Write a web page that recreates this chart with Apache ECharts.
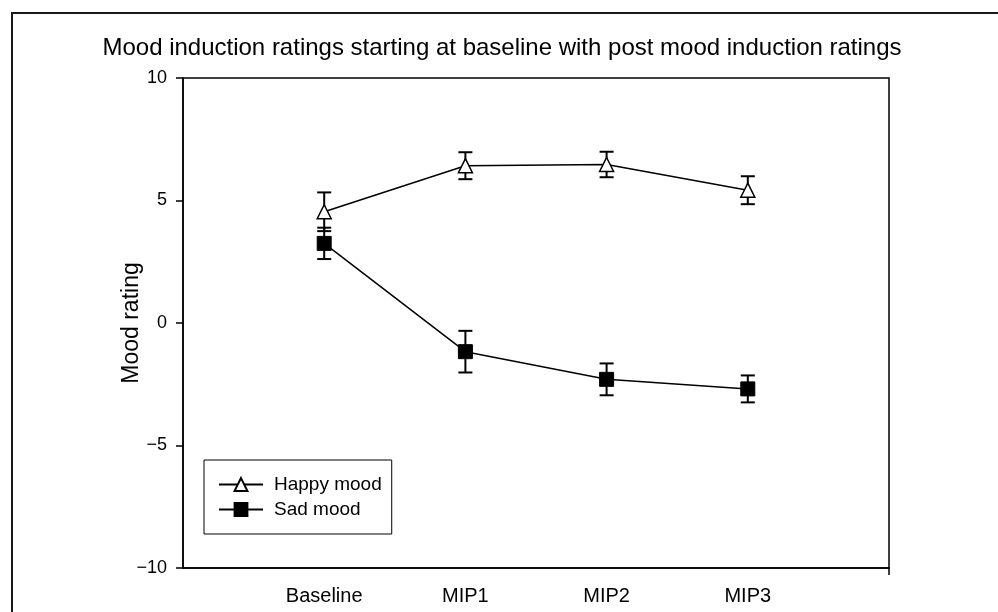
<!DOCTYPE html>
<html>
<head>
<meta charset="utf-8">
<title>Mood induction ratings</title>
<script src="https://cdn.jsdelivr.net/npm/echarts@6/dist/echarts.min.js"></script>
<style>
  html, body { margin: 0; padding: 0; background: #fff; }
  #chart { width: 998px; height: 612px; }
</style>
</head>
<body>
<div id="chart"></div>
<script>
// time points (placed at 1..4 on a 0..5 axis)
const categories = ["Baseline", "MIP1", "MIP2", "MIP3"];
const positions = [1, 2, 3, 4];
const yTicks = [-10, -5, 0, 5, 10];

// means and error bar half-lengths
const happyMean = [4.54, 6.42, 6.47, 5.42];
const happyErr = [0.79, 0.55, 0.52, 0.57];
const sadMean = [3.25, -1.17, -2.30, -2.69];
const sadErr = [0.64, 0.85, 0.65, 0.55];

const FONT = "'Liberation Sans', Arial, sans-serif";

const chart = echarts.init(document.getElementById("chart"));

function pts(means) {
  return positions.map((x, i) => [x, means[i]]);
}
function errPts(means, errs) {
  return positions.map((x, i) => [x, means[i], errs[i]]);
}

// error bar: vertical line + two caps
function errorBar(params, api) {
  const x = api.value(0), m = api.value(1), e = api.value(2);
  const top = api.coord([x, m + e]);
  const bot = api.coord([x, m - e]);
  const hw = 7;
  const st = { stroke: "#000", lineWidth: 2 };
  return {
    type: "group",
    children: [
      { type: "line", shape: { x1: top[0], y1: top[1], x2: bot[0], y2: bot[1] }, style: st },
      { type: "line", shape: { x1: top[0] - hw, y1: top[1], x2: top[0] + hw, y2: top[1] }, style: st },
      { type: "line", shape: { x1: bot[0] - hw, y1: bot[1], x2: bot[0] + hw, y2: bot[1] }, style: st }
    ]
  };
}

const option = {
  backgroundColor: "#fff",
  animation: false,
  textStyle: { fontFamily: FONT, color: "#000" },
  title: {
    text: "Mood induction ratings starting at baseline with post mood induction ratings",
    left: 497,
    textAlign: "center",
    top: 31,
    textStyle: { fontSize: 24, fontWeight: "normal", color: "#000", fontFamily: FONT }
  },
  graphic: [
    {
      // outer figure frame
      type: "rect",
      z: 0,
      shape: { x: 12, y: 13, width: 1000, height: 700 },
      style: { fill: "none", stroke: "#1a1a1a", lineWidth: 2 }
    }
  ],
  grid: {
    left: 183,
    top: 78,
    right: 109,
    bottom: 44,
    show: true,
    borderColor: "#000",
    borderWidth: 1.5,
    backgroundColor: "transparent"
  },
  legend: {
    orient: "vertical",
    left: 204,
    top: 460,
    backgroundColor: "#fff",
    borderColor: "#000",
    borderWidth: 1,
    padding: [15, 10, 15, 14],
    itemWidth: 44,
    itemHeight: 16,
    itemGap: 6,
    textStyle: { fontSize: 19, color: "#000", fontFamily: FONT, padding: [0, 0, 0, 6] },
    data: ["Happy mood", "Sad mood"]
  },
  xAxis: {
    type: "value",
    min: 0,
    max: 5,
    interval: 1,
    splitLine: { show: false },
    axisLine: { onZero: false, lineStyle: { color: "#000", width: 1.5 } },
    axisTick: {
      show: true,
      inside: false,
      length: 7,
      customValues: [5],
      lineStyle: { color: "#000", width: 1.5 }
    },
    axisLabel: {
      customValues: positions,
      margin: 18,
      fontSize: 20,
      color: "#000",
      fontFamily: FONT,
      formatter: (v) => categories[positions.indexOf(v)] || ""
    }
  },
  yAxis: {
    type: "value",
    min: -10,
    max: 10,
    interval: 5,
    name: "Mood rating",
    nameLocation: "middle",
    nameGap: 40,
    nameMoveOverlap: false,
    nameTextStyle: { fontSize: 23, color: "#000", fontFamily: FONT },
    splitLine: { show: false },
    axisLine: { show: true, onZero: false, lineStyle: { color: "#000", width: 1.5 } },
    axisTick: { show: true, length: 7, lineStyle: { color: "#000", width: 1.5 } },
    axisLabel: {
      margin: 16,
      fontSize: 18,
      color: "#000",
      fontFamily: FONT,
      formatter: (v) => (yTicks.includes(v) ? String(v).replace("-", "\u2212") : "")
    }
  },
  series: [
    {
      name: "Happy err",
      type: "custom",
      renderItem: errorBar,
      data: errPts(happyMean, happyErr),
      z: 1,
      silent: true
    },
    {
      name: "Sad err",
      type: "custom",
      renderItem: errorBar,
      data: errPts(sadMean, sadErr),
      z: 1,
      silent: true
    },
    {
      name: "Happy mood",
      type: "line",
      data: pts(happyMean),
      symbol: "triangle",
      symbolSize: 14,
      lineStyle: { color: "#000", width: 1.5 },
      itemStyle: { color: "#fff", borderColor: "#000", borderWidth: 1.5 },
      z: 3
    },
    {
      name: "Sad mood",
      type: "line",
      data: pts(sadMean),
      symbol: "rect",
      symbolSize: 14,
      lineStyle: { color: "#000", width: 1.5 },
      itemStyle: { color: "#000", borderColor: "#000", borderWidth: 1 },
      z: 3
    }
  ]
};

chart.setOption(option);
</script>
</body>
</html>
